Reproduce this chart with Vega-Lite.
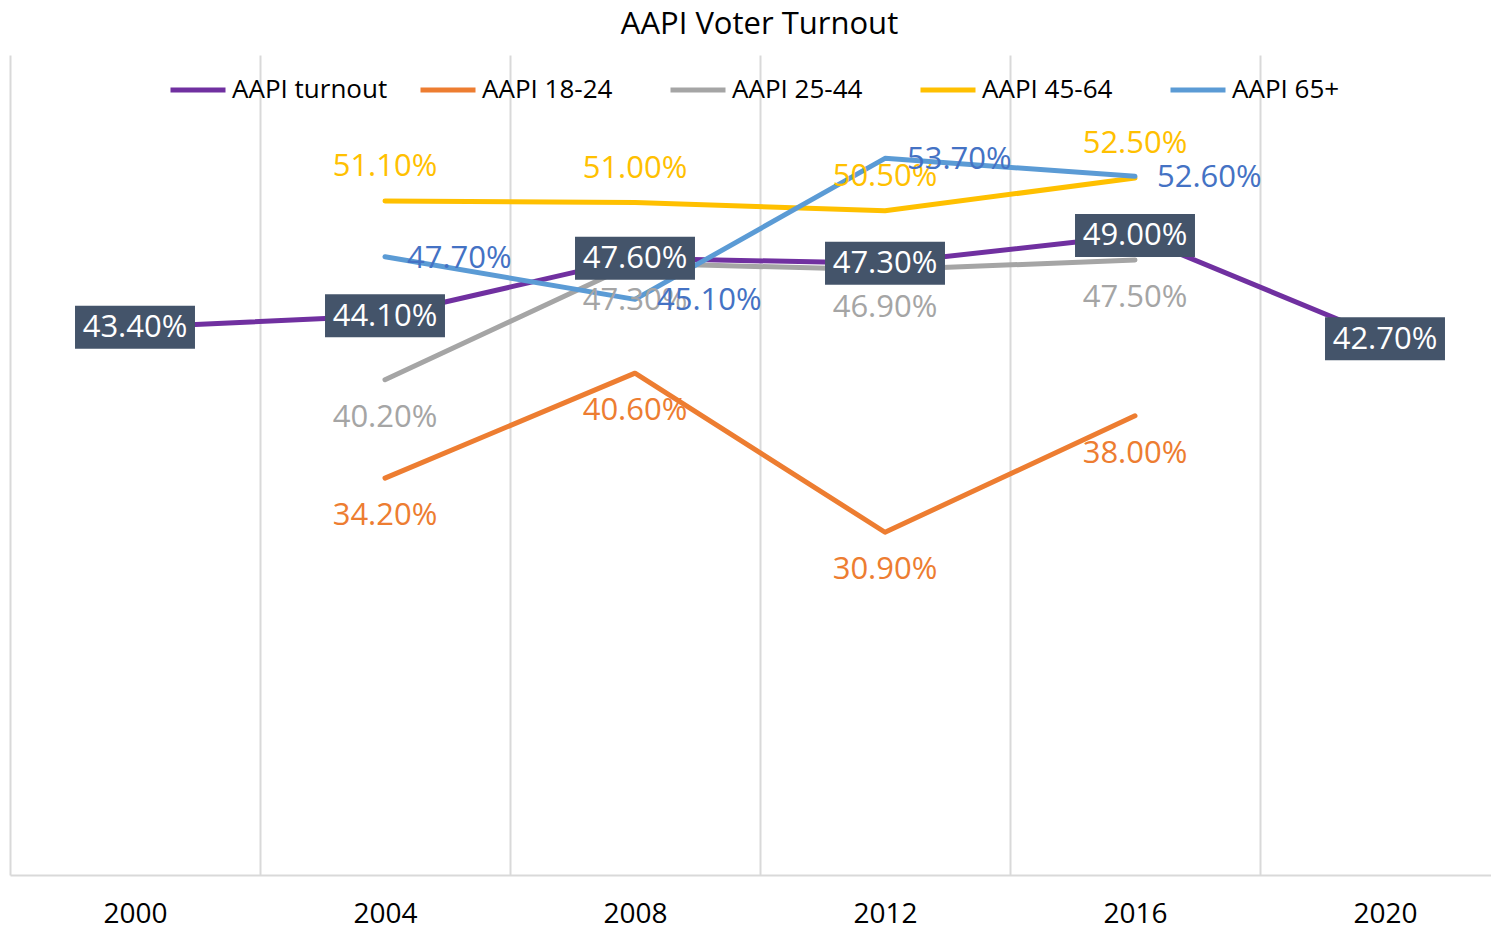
{
  "$schema": "https://vega.github.io/schema/vega-lite/v6.json",
  "width": 1481,
  "height": 820,
  "autosize": {"type": "pad"},
  "padding": {"left": 10, "right": 0, "top": 9, "bottom": 0},
  "background": "white",
  "title": {"text": "AAPI Voter Turnout", "fontSize": 31, "font": "Open Sans", "fontWeight": "normal", "color": "#000000", "anchor": "middle", "offset": 14, "dx": 9},
  "config": {"view": {"stroke": null}, "font": "Open Sans"},
  "data": {"values": [
    {"year": 2000, "series": "AAPI turnout", "value": 0.434},
    {"year": 2004, "series": "AAPI turnout", "value": 0.441},
    {"year": 2008, "series": "AAPI turnout", "value": 0.476},
    {"year": 2012, "series": "AAPI turnout", "value": 0.473},
    {"year": 2016, "series": "AAPI turnout", "value": 0.49},
    {"year": 2020, "series": "AAPI turnout", "value": 0.427},
    {"year": 2004, "series": "AAPI 18-24", "value": 0.342},
    {"year": 2008, "series": "AAPI 18-24", "value": 0.406},
    {"year": 2012, "series": "AAPI 18-24", "value": 0.309},
    {"year": 2016, "series": "AAPI 18-24", "value": 0.38},
    {"year": 2004, "series": "AAPI 25-44", "value": 0.402},
    {"year": 2008, "series": "AAPI 25-44", "value": 0.473},
    {"year": 2012, "series": "AAPI 25-44", "value": 0.469},
    {"year": 2016, "series": "AAPI 25-44", "value": 0.475},
    {"year": 2004, "series": "AAPI 45-64", "value": 0.511},
    {"year": 2008, "series": "AAPI 45-64", "value": 0.51},
    {"year": 2012, "series": "AAPI 45-64", "value": 0.505},
    {"year": 2016, "series": "AAPI 45-64", "value": 0.525},
    {"year": 2004, "series": "AAPI 65+", "value": 0.477},
    {"year": 2008, "series": "AAPI 65+", "value": 0.451},
    {"year": 2012, "series": "AAPI 65+", "value": 0.537},
    {"year": 2016, "series": "AAPI 65+", "value": 0.526}
  ]},
  "encoding": {
    "x": {"field": "year", "type": "quantitative",
      "scale": {"domain": [1998, 2021.696], "nice": false, "zero": false},
      "axis": {"values": [1998, 2000, 2002, 2004, 2006, 2008, 2010, 2012, 2014, 2016, 2018, 2020],
        "format": "d", "labelExpr": "datum.value % 4 == 0 ? datum.label : ''",
        "grid": true, "gridColor": "#D9D9D9", "gridWidth": 2,
        "gridOpacity": {"condition": {"test": "datum.value % 4 == 2", "value": 1}, "value": 0},
        "ticks": false, "domainColor": "#D9D9D9", "domainWidth": 2,
        "labelFontSize": 28, "labelColor": "#000000", "labelPadding": 25, "labelFlush": false, "labelOverlap": false, "title": null}},
    "y": {"field": "value", "type": "quantitative", "scale": {"domain": [0.1, 0.6], "nice": false, "zero": false}, "axis": null}
  },
  "layer": [
    {"transform": [{"filter": "datum.series == 'AAPI turnout'"}],
     "mark": {"type": "line", "strokeWidth": 5, "strokeCap": "round", "strokeJoin": "round"},
     "encoding": {"color": {"field": "series", "type": "nominal",
       "scale": {"domain": ["AAPI turnout", "AAPI 18-24", "AAPI 25-44", "AAPI 45-64", "AAPI 65+"], "range": ["#7030A0", "#ED7D31", "#A5A5A5", "#FFC000", "#5B9BD5"]},
       "legend": {"orient": "none", "legendX": 158, "legendY": 5, "direction": "horizontal", "title": null, "symbolType": "stroke", "symbolSize": 3025, "symbolStrokeWidth": 5, "labelFontSize": 26, "labelColor": "#000000", "labelOffset": 4, "columnPadding": 22, "gridAlign": "all", "padding": 0, "labelLimit": 300}}}},
    {"transform": [{"filter": "datum.series != 'AAPI turnout'"}],
     "mark": {"type": "line", "strokeWidth": 5, "strokeCap": "round", "strokeJoin": "round"},
     "encoding": {"color": {"field": "series", "type": "nominal",
       "scale": {"domain": ["AAPI turnout", "AAPI 18-24", "AAPI 25-44", "AAPI 45-64", "AAPI 65+"], "range": ["#7030A0", "#ED7D31", "#A5A5A5", "#FFC000", "#5B9BD5"]},
       "legend": {"orient": "none", "legendX": 158, "legendY": 5, "direction": "horizontal", "title": null, "symbolType": "stroke", "symbolSize": 3025, "symbolStrokeWidth": 5, "labelFontSize": 26, "labelColor": "#000000", "labelOffset": 4, "columnPadding": 22, "gridAlign": "all", "padding": 0, "labelLimit": 300}}}},
    {"transform": [{"filter": "datum.series == 'AAPI 18-24'"}],
     "mark": {"type": "text", "fontSize": 31, "color": "#ED7D31", "align": "center", "baseline": "middle", "dy": 38},
     "encoding": {"text": {"field": "value", "type": "quantitative", "format": ".2%"}}},
    {"transform": [{"filter": "datum.series == 'AAPI 25-44'"}],
     "mark": {"type": "text", "fontSize": 31, "color": "#A5A5A5", "align": "center", "baseline": "middle", "dy": 38},
     "encoding": {"text": {"field": "value", "type": "quantitative", "format": ".2%"}}},
    {"transform": [{"filter": "datum.series == 'AAPI 45-64'"}],
     "mark": {"type": "text", "fontSize": 31, "color": "#FFC000", "align": "center", "baseline": "middle", "dy": -34},
     "encoding": {"text": {"field": "value", "type": "quantitative", "format": ".2%"}}},
    {"transform": [{"filter": "datum.series == 'AAPI 65+'"}],
     "mark": {"type": "text", "fontSize": 31, "color": "#4472C4", "align": "left", "baseline": "middle", "dx": 22, "dy": 2},
     "encoding": {"text": {"field": "value", "type": "quantitative", "format": ".2%"}}},
    {"transform": [{"filter": "datum.series == 'AAPI turnout'"}],
     "mark": {"type": "point", "shape": "M-2.79,-1H2.79V1H-2.79Z", "size": 1849, "filled": true, "color": "#44546A", "opacity": 1, "strokeWidth": 0}},
    {"transform": [{"filter": "datum.series == 'AAPI turnout'"}],
     "mark": {"type": "text", "fontSize": 31, "color": "#FFFFFF", "align": "center", "baseline": "middle", "dy": 1},
     "encoding": {"text": {"field": "value", "type": "quantitative", "format": ".2%"}}}
  ]
}
